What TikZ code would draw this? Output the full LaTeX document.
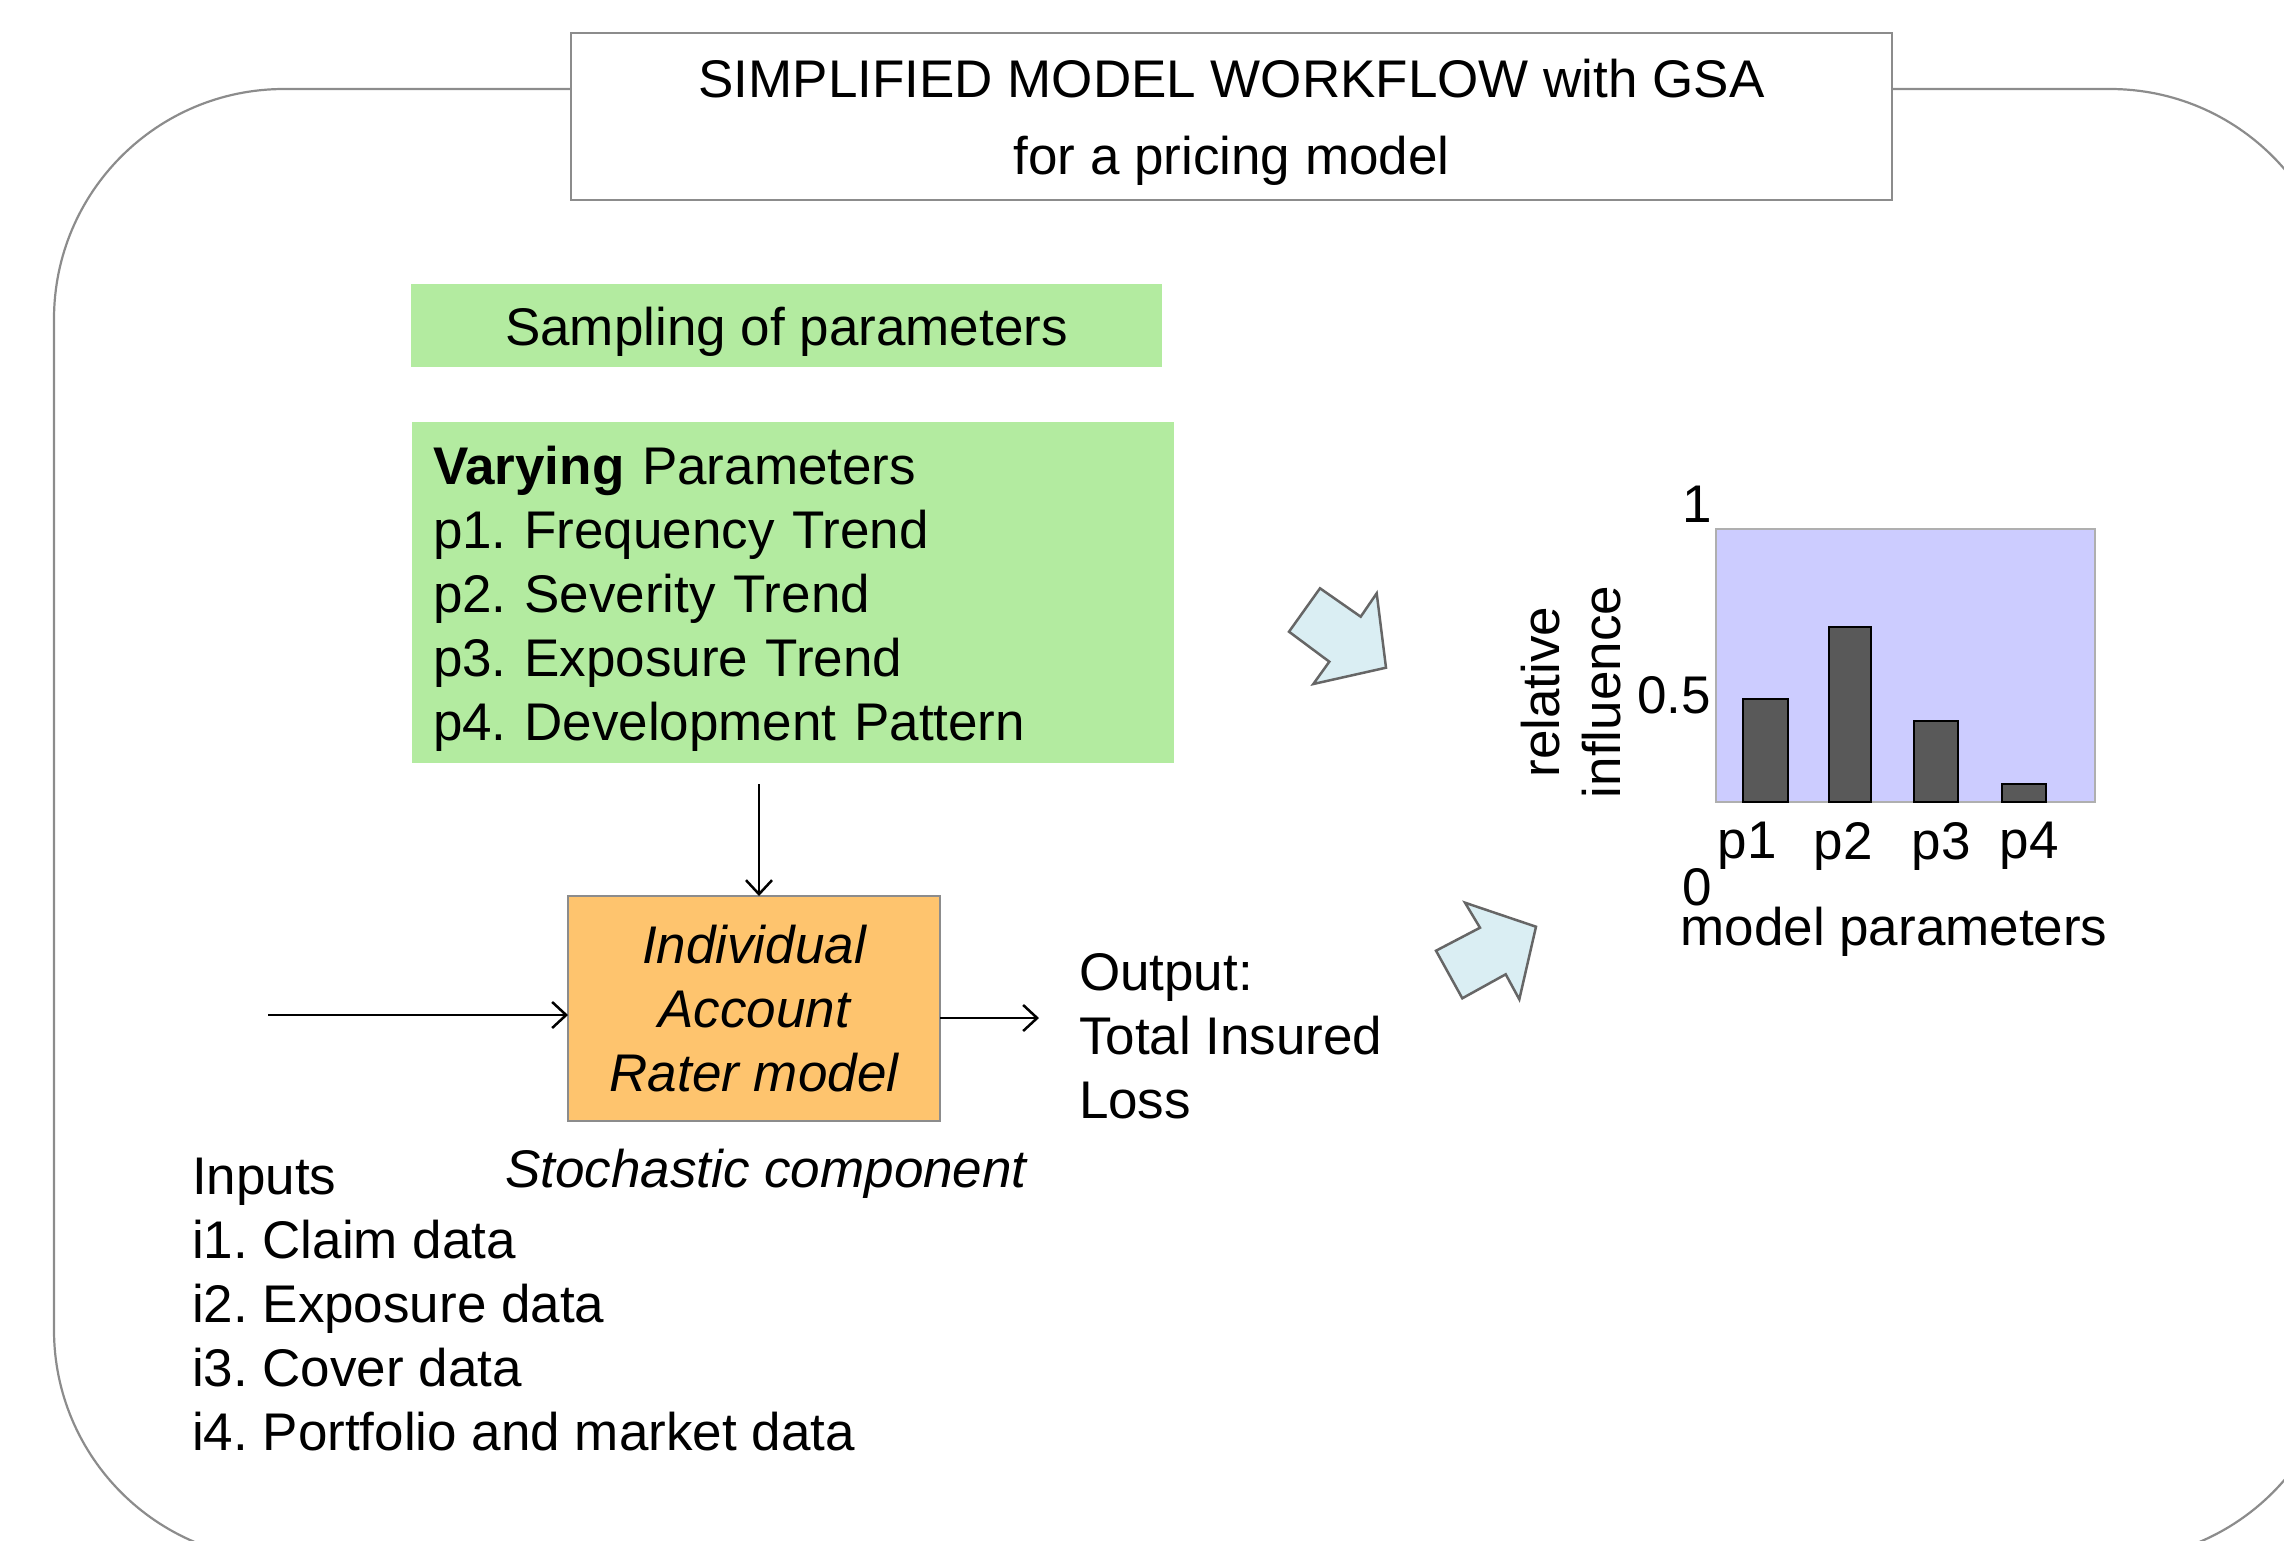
\documentclass[tikz,border=0pt]{standalone}
\usepackage{fontspec}
\setmainfont{Liberation Sans}
\usetikzlibrary{arrows.meta,calc}
\definecolor{bordergray}{HTML}{8C8C8C}
\definecolor{paramgreen}{HTML}{B3EBA0}
\definecolor{raterorange}{HTML}{FEC46E}
\definecolor{arrowblue}{HTML}{DAEEF3}
\definecolor{arrowedge}{HTML}{666666}
\definecolor{plotlav}{HTML}{CCCCFF}
\definecolor{bargray}{HTML}{595959}
\frenchspacing
\begin{document}
\frenchspacing
\begin{tikzpicture}[x=1pt,y=-1pt,
  every node/.style={font=\fontsize{53}{64}\selectfont, inner sep=0pt, outer sep=0pt},
  conn/.style={line width=2.5pt, -{Straight Barb[length=14pt,width=26pt,line width=2.5pt]}},
  greenbox/.style={fill=paramgreen},
  blockarrow/.style={fill=arrowblue, draw=arrowedge, line width=2.5pt, line join=miter},
  barstyle/.style={fill=bargray, draw=black, line width=2pt}
]
\useasboundingbox (0,0) rectangle (2284,1540);
% outer rounded frame
\draw[bordergray, line width=2.2pt, rounded corners=230pt] (54,89) rectangle (2340,1560);
% title
\node[draw=bordergray, line width=2.5pt, fill=white, minimum width=1321pt, minimum height=167pt] (title) at (1231.5,116.5) {};
\node[align=center, font=\fontsize{53}{77}\selectfont] (titletext) at (1231.5,122.5)
      {SIMPLIFIED MODEL WORKFLOW with GSA\\for a pricing model};
% sampling box
\node[greenbox, minimum width=751pt, minimum height=83pt, text height=40pt, text depth=0pt] (sampling) at (786.5,325.5) {Sampling of parameters};
% varying parameters box
\node[greenbox, minimum width=762pt, minimum height=341pt] (vary) at (793,592.5) {};
\node[text width=720pt, align=left] (varytext) at (793,598.5)
  {\textbf{Varying} Parameters\\p1. Frequency Trend\\p2. Severity Trend\\p3. Exposure Trend\\p4. Development Pattern};
% rater model
\node[fill=raterorange, draw=bordergray, line width=2pt, minimum width=372pt, minimum height=225pt,
      align=center, font=\fontsize{53}{64}\selectfont\itshape] (rater) at (754,1008.5)
  {Individual\\Account\\Rater model};
\node[font=\fontsize{53}{64}\selectfont\itshape] (stoch) at (766,1174) {Stochastic component};
% inputs
\node[anchor=west, align=left] (inputs) at (192,1305)
  {Inputs\\i1. Claim data\\i2. Exposure data\\i3. Cover data\\i4. Portfolio and market data};
% output
\node[anchor=west, align=left] (output) at (1079,1036)
  {Output:\\Total Insured\\Loss};
% connectors
\coordinate (v0) at (759,784);
\coordinate (in0) at (268,1015);
\coordinate (out0) at (1039,1018);
\draw[conn] (v0) -- (v0 |- rater.north);
\draw[conn] (in0) -- (in0 -| rater.west);
\draw[conn] (rater.east |- out0) -- (out0);
% block arrows
\draw[blockarrow] (1320,588.3) -- (1360.7,616.7) -- (1376.7,593.3) -- (1386,667.7) -- (1313.3,684) -- (1329.3,661.7) -- (1289,631.7) -- cycle;
\draw[blockarrow] (1465,902.7) -- (1480,927.7) -- (1436,950.7) -- (1462.3,998.3) -- (1505.7,974.3) -- (1519.3,999.3) -- (1536,926.7) -- cycle;
% chart
\draw[fill=plotlav, draw=bordergray!70, line width=2pt] (1716,529.3) rectangle (2095.3,801.7);
\draw[barstyle] (1743,801.7) rectangle (1788,699);
\draw[barstyle] (1829.3,801.7) rectangle (1871,626.7);
\draw[barstyle] (1913.5,801.7) rectangle (1957.7,720.7);
\draw[barstyle] (2002,801.7) rectangle (2046,784.3);
\node (ytop) at (1697,504) {1};
\node[anchor=east] (ymid) at (1711,695) {0.5};
\node (ybot) at (1697,887) {0};
\node (lp1) at (1747,846) {p1};
\node (lp2) at (1843,846) {p2};
\node (lp3) at (1941,846) {p3};
\node (lp4) at (2029,846) {p4};
\node (xlab) at (1894,932) {model parameters};
\node[rotate=90] (ylab1) at (1541,692) {relative};
\node[rotate=90] (ylab2) at (1602,692) {influence};
\end{tikzpicture}
\end{document}
